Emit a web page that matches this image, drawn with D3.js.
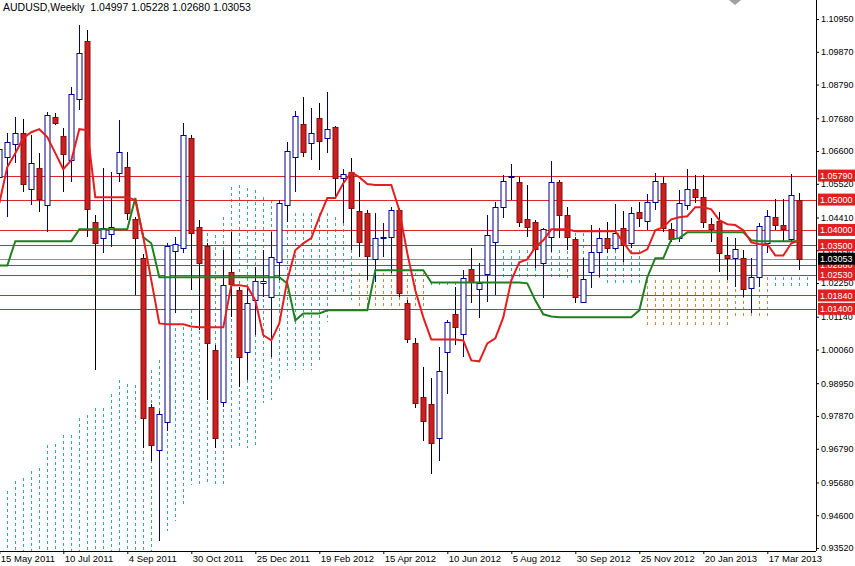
<!DOCTYPE html>
<html><head><meta charset="utf-8">
<script src="https://cdn.jsdelivr.net/npm/d3@7"></script>
<style>body{margin:0;background:#fff}svg{display:block;font-family:"Liberation Sans",Arial,sans-serif}</style>
</head><body><svg id="c" width="855" height="566"></svg>
<script>
const title = "AUDUSD,Weekly  1.04997 1.05228 1.02680 1.03053";
const opens = [1.0574,1.0640,1.0683,1.0719,1.0534,1.0604,1.0482,1.0772,1.0709,1.0630,
1.0831,1.1023,1.0425,1.0373,1.0386,1.0587,1.0607,1.0435,1.0307,0.9815,
0.9673,0.9765,1.0330,1.0340,1.0703,1.0409,1.0346,1.0003,0.9831,1.0260,
1.0201,0.9996,1.0168,1.0224,1.0178,1.0293,1.0482,1.0640,1.0749,1.0686,
1.0769,1.0703,1.0739,1.0571,1.0590,1.0462,1.0455,1.0303,1.0373,1.0376,
1.0465,1.0158,1.0026,0.9851,0.9828,0.9713,0.9996,1.0122,1.0056,1.0270,
1.0204,1.0254,1.0359,1.0475,1.0574,1.0557,1.0435,1.0425,1.0290,1.0376,
1.0557,1.0448,1.0369,1.0161,1.0260,1.0326,1.0373,1.0340,1.0406,1.0356,
1.0458,1.0429,1.0491,1.0554,1.0402,1.0373,1.0482,1.0534,1.0508,1.0419,
1.0429,1.0317,1.0307,1.0307,1.0208,1.0244,1.0356,1.0442,1.0416,1.0369,1.04997];
const highs = [1.0696,1.0719,1.0772,1.0765,1.0713,1.0653,1.0788,1.0785,1.0736,1.0871,
1.1076,1.1059,1.0448,1.0604,1.0590,1.0762,1.0656,1.0442,1.0320,0.9828,
0.9805,1.0356,1.0376,1.0752,1.0713,1.0432,1.0356,1.0020,1.0333,1.0392,
1.0211,1.0211,1.0277,1.0333,1.0392,1.0498,1.0689,1.0792,1.0838,1.0802,
1.0818,1.0854,1.0742,1.0600,1.0637,1.0557,1.0465,1.0455,1.0422,1.0475,
1.0472,1.0168,1.0043,0.9947,0.9911,1.0013,1.0102,1.0211,1.0267,1.0340,
1.0290,1.0448,1.0491,1.0581,1.0617,1.0574,1.0548,1.0432,1.0406,1.0627,
1.0564,1.0475,1.0376,1.0307,1.0416,1.0406,1.0425,1.0485,1.0462,1.0475,
1.0491,1.0518,1.0587,1.0574,1.0422,1.0531,1.0600,1.0581,1.0581,1.0439,
1.0458,1.0376,1.0373,1.0333,1.0307,1.0422,1.0465,1.0501,1.0501,1.0584,1.05228];
const lows = [1.0548,1.0442,1.0620,1.0524,1.0482,1.0458,1.0392,1.0746,1.0524,1.0557,
1.0795,1.0376,0.9937,1.0323,1.0343,1.0557,1.0432,1.0185,0.9683,0.9640,
0.9376,0.9739,1.0125,1.0323,1.0201,1.0069,0.9838,0.9683,0.9815,1.0112,
0.9881,0.9904,1.0053,1.0178,0.9980,1.0234,1.0425,1.0524,1.0640,1.0630,
1.0597,1.0653,1.0505,1.0422,1.0333,1.0310,1.0234,1.0227,1.0310,1.0257,
1.0178,1.0026,0.9812,0.9703,0.9597,0.9640,0.9861,1.0020,0.9980,1.0158,
1.0109,1.0161,1.0185,1.0439,1.0498,1.0409,1.0376,1.0274,1.0175,1.0326,
1.0373,1.0333,1.0158,1.0158,1.0208,1.0244,1.0323,1.0333,1.0293,1.0340,
1.0409,1.0399,1.0465,1.0392,1.0359,1.0359,1.0465,1.0488,1.0406,1.0359,
1.0260,1.0234,1.0211,1.0178,1.0125,1.0211,1.0323,1.0399,1.0359,1.0363,1.02680];
const closes = [1.0666,1.0689,1.0719,1.0551,1.0620,1.0501,1.0779,1.0752,1.0650,1.0848,
1.0983,1.0468,1.0356,1.0406,1.0409,1.0656,1.0455,1.0373,0.9779,0.9690,
0.9792,1.0346,1.0353,1.0713,1.0389,1.0290,1.0026,0.9713,1.0218,1.0221,
0.9980,1.0158,1.0231,1.0231,1.0310,1.0488,1.0660,1.0775,1.0656,1.0719,
1.0693,1.0732,1.0571,1.0584,1.0472,1.0359,1.0313,1.0373,1.0376,1.0465,
1.0191,1.0039,0.9828,0.9772,0.9699,0.9934,1.0095,1.0079,1.0241,1.0227,
1.0224,1.0382,1.0475,1.0561,1.0577,1.0425,1.0409,1.0336,1.0402,1.0557,
1.0448,1.0376,1.0178,1.0237,1.0326,1.0373,1.0340,1.0389,1.0349,1.0455,
1.0439,1.0491,1.0561,1.0406,1.0369,1.0488,1.0534,1.0508,1.0425,1.0402,
1.0323,1.0307,1.0336,1.0204,1.0244,1.0412,1.0445,1.0416,1.0402,1.0515,1.03053];
const tenkan = [1.0488,1.0607,1.0653,1.0703,1.0722,1.0732,1.0706,1.0653,1.0600,1.0630,
1.0732,1.0729,1.0508,1.0508,1.0508,1.0508,1.0508,1.0498,1.0376,1.0234,
1.0092,1.0089,1.0089,1.0089,1.0082,1.0079,1.0079,1.0079,1.0079,1.0218,
1.0218,1.0214,1.0168,1.0053,1.0036,1.0092,1.0234,1.0333,1.0356,1.0373,
1.0442,1.0505,1.0505,1.0554,1.0590,1.0574,1.0551,1.0548,1.0548,1.0548,
1.0465,1.0323,1.0201,1.0112,1.0039,1.0039,1.0039,1.0039,1.0036,0.9970,
0.9967,1.0026,1.0043,1.0112,1.0234,1.0293,1.0303,1.0343,1.0366,1.0402,
1.0402,1.0402,1.0396,1.0396,1.0396,1.0396,1.0396,1.0396,1.0359,1.0323,
1.0323,1.0336,1.0399,1.0409,1.0435,1.0442,1.0445,1.0475,1.0475,1.0468,
1.0432,1.0419,1.0416,1.0399,1.0359,1.0353,1.0353,1.0316,1.0316,1.0356,1.0366];
const kijun = [1.0283,1.0283,1.0363,1.0363,1.0363,1.0363,1.0363,1.0363,1.0363,1.0363,
1.0402,1.0402,1.0402,1.0402,1.0402,1.0402,1.0402,1.0505,1.0376,1.0356,
1.0244,1.0244,1.0244,1.0244,1.0244,1.0244,1.0244,1.0244,1.0244,1.0244,
1.0244,1.0244,1.0244,1.0244,1.0244,1.0244,1.0224,1.0102,1.0125,1.0125,
1.0125,1.0135,1.0135,1.0135,1.0135,1.0135,1.0135,1.0267,1.0267,1.0267,
1.0267,1.0267,1.0267,1.0267,1.0227,1.0227,1.0227,1.0227,1.0227,1.0227,
1.0227,1.0227,1.0227,1.0227,1.0227,1.0227,1.0224,1.0168,1.0122,1.0115,
1.0112,1.0112,1.0112,1.0112,1.0112,1.0112,1.0112,1.0112,1.0112,1.0112,
1.0135,1.0244,1.0307,1.0307,1.0369,1.0373,1.0392,1.0392,1.0392,1.0392,
1.0392,1.0392,1.0392,1.0392,1.0366,1.0363,1.0363,1.0363,1.0363,1.0363,1.0363];
const cloudTop = [0.9518,0.9541,0.9574,0.9584,0.9607,0.9614,0.9690,0.9696,0.9723,0.9723,
0.9779,0.9789,0.9812,0.9812,0.9861,0.9904,0.9894,0.9888,0.9888,0.9937,
0.9970,1.0046,1.0076,1.0079,1.0135,1.0323,1.0389,1.0382,1.0442,1.0541,
1.0548,1.0538,1.0531,1.0508,1.0498,1.0491,1.0475,1.0455,1.0455,1.0455,
1.0455,1.0455,1.0442,1.0422,1.0333,1.0257,1.0257,1.0257,1.0257,1.0257,
1.0257,1.0257,1.0257,1.0257,1.0227,1.0227,1.0227,1.0227,1.0227,1.0227,
1.0227,1.0227,1.0227,1.0333,1.0333,1.0333,1.0333,1.0333,1.0333,1.0333,
1.0333,1.0389,1.0389,1.0389,1.0389,1.0389,1.0333,1.0333,1.0333,1.0333,
1.0333,1.0234,1.0234,1.0234,1.0234,1.0234,1.0234,1.0234,1.0234,1.0234,
1.0234,1.0234,1.0244,1.0244,1.0244,1.0244,1.0244,1.0244,1.0244,1.0244,1.0244,1.0244];
const cloudBottom = [0.925,0.925,0.925,0.925,0.925,0.925,0.925,0.925,0.925,0.925,
0.925,0.925,0.925,0.925,0.925,0.925,0.925,0.925,0.925,0.925,
0.9376,0.9409,0.9442,0.9492,0.9558,0.9558,0.9558,0.9558,0.9558,0.9680,
0.9680,0.9680,0.9683,0.9831,0.9838,0.9904,0.9937,0.9937,0.9937,0.9937,
0.9970,1.0095,1.0191,1.0191,1.0168,1.0145,1.0145,1.0145,1.0145,1.0145,
1.0145,1.0145,1.0145,1.0145,1.0211,1.0211,1.0211,1.0211,1.0211,1.0211,
1.0211,1.0211,1.0211,1.0234,1.0234,1.0234,1.0234,1.0234,1.0234,1.0234,
1.0234,1.0234,1.0234,1.0234,1.0234,1.0234,1.0224,1.0224,1.0224,1.0224,
1.0224,1.0079,1.0079,1.0079,1.0079,1.0079,1.0079,1.0079,1.0079,1.0079,
1.0079,1.0079,1.0112,1.0112,1.0112,1.0112,1.0112,1.0211,1.0211,1.0211,1.0211,1.0211];
const bearCloudRanges = [[45,53],[81,96]];
const levels = [1.0579,1.0500,1.0400,1.0350,1.0286,1.0253,1.0184,1.0140];
const levelLabels = ["1.05790","1.05000","1.04000","1.03500","1.02860","1.02530","1.01840","1.01400"];
const lastPrice = 1.03053;
const priceTicks = [1.1095,1.0987,1.0879,1.0768,1.0660,1.0552,1.0441,1.0333,1.0225,1.0114,1.0006,0.9895,0.9787,0.9679,0.9568,0.9460,0.9352];
const dateIdx = [0,8,16,24,32,40,48,56,64,72,80,88,96];
const dateLabels = ["15 May 2011","10 Jul 2011","4 Sep 2011","30 Oct 2011","25 Dec 2011","19 Feb 2012","15 Apr 2012","10 Jun 2012","5 Aug 2012","30 Sep 2012","25 Nov 2012","20 Jan 2013","17 Mar 2013"];

const svg = d3.select("#c");
const W = 816, H = 551;
const x = d3.scaleLinear().domain([0,100]).range([-0.7,799.3]);
const y = d3.scaleLinear().domain([0.9352,1.1095]).range([548,19]);

svg.append("clipPath").attr("id","pc").append("rect").attr("x",0).attr("y",0).attr("width",W).attr("height",H);
const g = svg.append("g").attr("clip-path","url(#pc)");

const isBear = i => bearCloudRanges.some(r => i>=r[0] && i<=r[1]);
g.selectAll(".cl").data(cloudTop).join("line")
 .attr("x1",(d,i)=>Math.round(x(i))+0.5).attr("x2",(d,i)=>Math.round(x(i))+0.5)
 .attr("y1",d=>Math.round(y(d))).attr("y2",(d,i)=>y(cloudBottom[i]))
 .style("stroke",(d,i)=>isBear(i)?"#d8843a":"#3aaa8c").style("stroke-width","1px")
 .attr("shape-rendering","crispEdges")
 .attr("stroke-dasharray","3,3");

g.selectAll(".lv").data(levels).join("line")
 .attr("x1",0).attr("x2",W).attr("y1",d=>Math.round(y(d))+0.5).attr("y2",d=>Math.round(y(d))+0.5)
 .attr("stroke","#d82a2a").attr("stroke-width",1).attr("shape-rendering","crispEdges");
g.append("line").attr("x1",0).attr("x2",W).attr("y1",Math.round(y(lastPrice))+0.5).attr("y2",Math.round(y(lastPrice))+0.5)
 .attr("stroke","#909090").attr("stroke-width",1).attr("shape-rendering","crispEdges");

const idx = d3.range(opens.length);
g.selectAll(".wk").data(idx).join("line")
 .attr("x1",i=>Math.round(x(i))+0.5).attr("x2",i=>Math.round(x(i))+0.5)
 .attr("y1",i=>y(highs[i])).attr("y2",i=>y(lows[i]))
 .attr("stroke",i=>closes[i]>=opens[i]?"#000090":"#000000").attr("stroke-width",1).attr("shape-rendering","crispEdges");
g.selectAll(".bd").data(idx).join("rect")
 .attr("x",i=>Math.round(x(i))-2)
 .attr("y",i=>Math.round(y(Math.max(opens[i],closes[i])))+0.5)
 .attr("width",5)
 .attr("height",i=>Math.max(1,Math.round(Math.abs(y(opens[i])-y(closes[i])))))
 .attr("fill",i=>closes[i]>=opens[i]?"#ffffff":"#cc2020")
 .attr("stroke",i=>closes[i]>=opens[i]?"#000090":"#801010").attr("stroke-width",1);

const ln = d3.line().x((d,i)=>x(i)).y(d=>y(d));
g.append("path").datum(kijun).attr("d",ln).attr("fill","none").attr("stroke","#208020").attr("stroke-width",2);
g.append("path").datum(tenkan).attr("d",ln).attr("fill","none").attr("stroke","#e41e1e").attr("stroke-width",2);

const ya = svg.append("g").attr("transform",`translate(${W},0)`)
 .call(d3.axisRight(y).tickValues(priceTicks).tickFormat(d=>d.toFixed(5)).tickSize(3).tickPadding(2));
ya.select(".domain").attr("stroke","#000").attr("d",`M0.5,0V${H}`);
ya.selectAll("text").attr("font-size",9).attr("fill","#000");
const xa = svg.append("g").attr("transform",`translate(0,${H})`)
 .call(d3.axisBottom(x).tickValues(dateIdx).tickFormat((d,i)=>dateLabels[i]).tickSize(3).tickPadding(1));
xa.select(".domain").attr("d",`M0,0.5H${W}`).attr("stroke","#000");
xa.selectAll("text").attr("font-size",9.5).attr("fill","#000").attr("text-anchor","start").attr("dx",1);

const lb = svg.append("g");
lb.selectAll("rect").data(levels).join("rect")
 .attr("x",W+2).attr("y",d=>y(d)-6).attr("width",37).attr("height",12).attr("fill","#e02020");
lb.selectAll("text").data(levels).join("text")
 .attr("x",W+4).attr("y",d=>y(d)+3.5).attr("font-size",9).attr("fill","#fff").text((d,i)=>levelLabels[i]);
svg.append("rect").attr("x",W+2).attr("y",y(lastPrice)-6).attr("width",37).attr("height",12).attr("fill","#000");
svg.append("text").attr("x",W+4).attr("y",y(lastPrice)+3.5).attr("font-size",9).attr("fill","#fff").text(lastPrice.toFixed(5));

svg.append("text").attr("x",3).attr("y",11).attr("font-size",10.5).attr("fill","#000").attr("xml:space","preserve").text(title);
svg.append("path").attr("d","M729,0 L741,0 L735,5 Z").attr("fill","#a0a0a0");
</script></body></html>
